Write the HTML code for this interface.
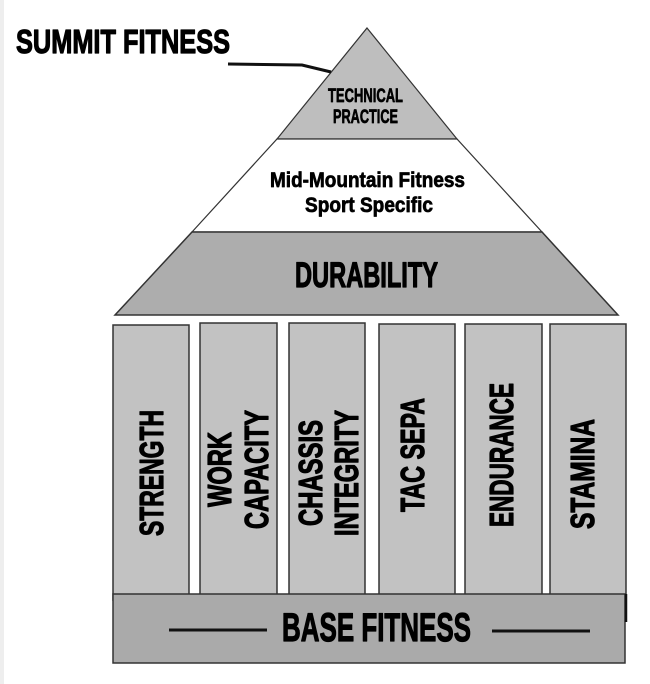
<!DOCTYPE html>
<html>
<head>
<meta charset="utf-8">
<style>
  html,body{margin:0;padding:0;background:#fff;}
  svg{display:block;}
  text{font-family:"Liberation Sans",Arial,sans-serif;font-weight:bold;fill:#000;stroke:#000;stroke-width:1.2;stroke-linejoin:round;}
  text.sm{stroke-width:0.7;}
</style>
</head>
<body>
<svg width="650" height="684" viewBox="0 0 650 684" xmlns="http://www.w3.org/2000/svg">
  <rect x="0" y="0" width="650" height="684" fill="#fff"/>
  <rect x="0" y="0" width="4" height="684" fill="#eeeeee"/>

  <!-- Pyramid -->
  <polygon points="367,28 457,139 277,139" fill="#bebebe" stroke="#333" stroke-width="1.2"/>
  <polygon points="277,139 457,139 542,232 192,232" fill="#ffffff" stroke="#333" stroke-width="1.2"/>
  <polygon points="192,232 542,232 618,315 115,315" fill="#adadad" stroke="#333" stroke-width="1.5"/>

  <!-- Connector -->
  <polyline points="228,64 302,65 331,72" fill="none" stroke="#111" stroke-width="3"/>

  <!-- Columns -->
  <rect x="113" y="325" width="76" height="275" fill="#c2c2c2" stroke="#333" stroke-width="1.5"/>
  <rect x="200" y="323" width="77" height="277" fill="#c2c2c2" stroke="#333" stroke-width="1.5"/>
  <rect x="289" y="323" width="76" height="277" fill="#c2c2c2" stroke="#333" stroke-width="1.5"/>
  <rect x="379" y="324" width="76" height="276" fill="#c2c2c2" stroke="#333" stroke-width="1.5"/>
  <rect x="465" y="324" width="77" height="276" fill="#c2c2c2" stroke="#333" stroke-width="1.5"/>
  <rect x="550" y="324" width="76" height="276" fill="#c2c2c2" stroke="#333" stroke-width="1.5"/>

  <!-- Base -->
  <rect x="113" y="594" width="512" height="69" fill="#aaaaaa" stroke="#333" stroke-width="1.5"/>
  <line x1="626" y1="594" x2="626" y2="622" stroke="#111" stroke-width="2.5"/>
  <line x1="169" y1="630" x2="267" y2="630" stroke="#111" stroke-width="3"/>
  <line x1="492" y1="631" x2="590" y2="631" stroke="#111" stroke-width="3"/>

  <!-- Horizontal labels -->
  <text x="16" y="53" font-size="33.5" textLength="214" lengthAdjust="spacingAndGlyphs">SUMMIT FITNESS</text>
  <text class="sm" x="328" y="102" font-size="19.5" textLength="75" lengthAdjust="spacingAndGlyphs">TECHNICAL</text>
  <text class="sm" x="333" y="123" font-size="19.5" textLength="65" lengthAdjust="spacingAndGlyphs">PRACTICE</text>
  <text class="sm" x="270" y="187" font-size="21" textLength="195" lengthAdjust="spacingAndGlyphs">Mid-Mountain Fitness</text>
  <text class="sm" x="305" y="212" font-size="21" textLength="128" lengthAdjust="spacingAndGlyphs">Sport Specific</text>
  <text x="295" y="287" font-size="35" textLength="143" lengthAdjust="spacingAndGlyphs">DURABILITY</text>
  <text x="282" y="641" font-size="40" textLength="189" lengthAdjust="spacingAndGlyphs">BASE FITNESS</text>

  <!-- Vertical labels -->
  <text transform="translate(163,473) rotate(-90)" x="0" y="0" text-anchor="middle" font-size="33.5" textLength="126" lengthAdjust="spacingAndGlyphs">STRENGTH</text>
  <text transform="translate(231,469.5) rotate(-90)" x="0" y="0" text-anchor="middle" font-size="33.5" textLength="75" lengthAdjust="spacingAndGlyphs">WORK</text>
  <text transform="translate(268,469.5) rotate(-90)" x="0" y="0" text-anchor="middle" font-size="33.5" textLength="119" lengthAdjust="spacingAndGlyphs">CAPACITY</text>
  <text transform="translate(322,473) rotate(-90)" x="0" y="0" text-anchor="middle" font-size="33.5" textLength="106" lengthAdjust="spacingAndGlyphs">CHASSIS</text>
  <text transform="translate(358,473) rotate(-90)" x="0" y="0" text-anchor="middle" font-size="33.5" textLength="126" lengthAdjust="spacingAndGlyphs">INTEGRITY</text>
  <text transform="translate(424,455) rotate(-90)" x="0" y="0" text-anchor="middle" font-size="33.5" textLength="114" lengthAdjust="spacingAndGlyphs">TAC SEPA</text>
  <text transform="translate(513,455) rotate(-90)" x="0" y="0" text-anchor="middle" font-size="33.5" textLength="144" lengthAdjust="spacingAndGlyphs">ENDURANCE</text>
  <text transform="translate(594,474) rotate(-90)" x="0" y="0" text-anchor="middle" font-size="33.5" textLength="110" lengthAdjust="spacingAndGlyphs">STAMINA</text>
</svg>
</body>
</html>
